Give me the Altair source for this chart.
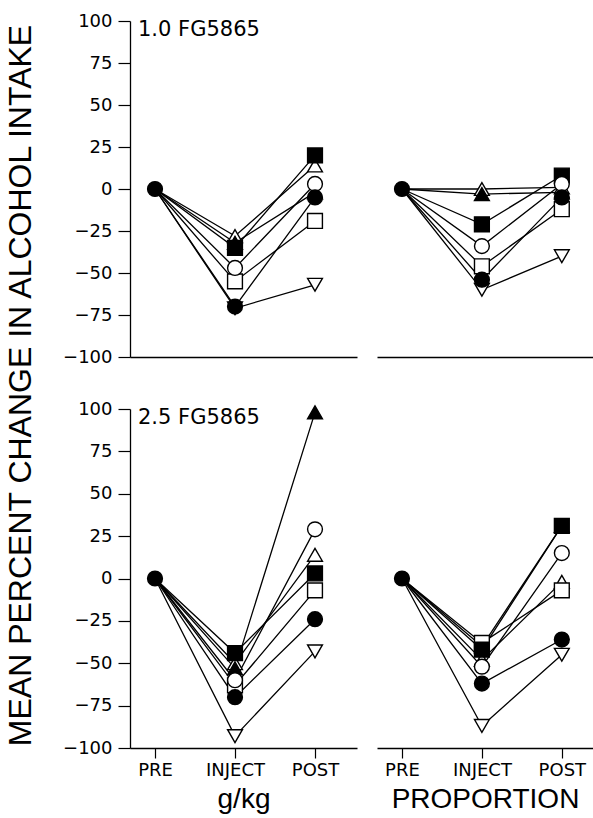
import altair as alt
import pandas as pd

FONT = "DejaVu Sans"
TFONT = "Liberation Sans"

phases = ["PRE", "INJECT", "POST"]
series = ["filled circle", "open circle", "filled square", "open square",
          "filled triangle", "open triangle", "open inverted triangle"]
shapes = ["circle", "circle", "square", "square", "triangle-up", "triangle-up", "triangle-down"]
fills = ["black", "white", "black", "white", "black", "white", "white"]
sizes = [220, 220, 150, 150, 200, 200, 200]

pre_all = [0, 0, 0, 0, 0, 0, 0]

# 1.0 FG5865, g/kg
inject_10_gkg = [-70, -47, -35, -55, -32, -28, -71]
post_10_gkg = [-5, 3, 20, -19, -2, 14, -57]
# 1.0 FG5865, proportion
inject_10_prop = [-54, -34, -21, -46, -3, 0, -60]
post_10_prop = [-5, 3, 8, -12, -2, 1, -40]
# 2.5 FG5865, g/kg
inject_25_gkg = [-70, -60, -44, -63, -53, -50, -93]
post_25_gkg = [-24, 29, 3, -7, 98, 14, -43]
# 2.5 FG5865, proportion
inject_25_prop = [-62, -52, -42, -38, -40, -48, -87]
post_25_prop = [-36, 15, 31, -7, 31, -2, -45]

panel_labels = ["1.0 FG5865", "2.5 FG5865"]
x_titles = ["g/kg", "PROPORTION"]
y_title = "MEAN PERCENT CHANGE IN ALCOHOL INTAKE"


def make_df(inject, post):
    rows = []
    # draw open markers first so the filled circle ends up on top
    for i in reversed(range(len(series))):
        for p, vals in enumerate([pre_all, inject, post]):
            rows.append({"series": series[i], "phase": p, "value": vals[i], "ord": len(rows)})
    return pd.DataFrame(rows)


def panel(df, label, left, bottom, width, height, xmax, xtitle=None):
    xaxis = alt.Axis(
        values=[0, 1, 2],
        labelExpr="datum.value == 0 ? 'PRE' : (datum.value == 1 ? 'INJECT' : 'POST')",
        labels=bottom, ticks=bottom, tickSize=10, tickColor="black", tickWidth=1.2,
        domainColor="black", domainWidth=1.3, grid=False,
        labelFont=FONT, labelFontSize=18, labelColor="black", labelPadding=3,
        title=xtitle if bottom else None,
        titleFont=TFONT, titleFontSize=28, titleFontWeight="normal", titleColor="black",
        titlePadding=6,
    )
    if left:
        yaxis = alt.Axis(
            values=[-100, -75, -50, -25, 0, 25, 50, 75, 100],
            labelExpr="datum.value < 0 ? '\u2212' + abs(datum.value) : datum.label",
            tickSize=12, tickColor="black", tickWidth=1.2, domainColor="black", domainWidth=1.3,
            grid=False, labelFont=FONT, labelFontSize=18, labelColor="black",
            labelPadding=6, title=None,
        )
    else:
        yaxis = None
    x = alt.X("phase:Q", scale=alt.Scale(domain=[-0.3125, xmax], nice=False, zero=False), axis=xaxis)
    y = alt.Y("value:Q", scale=alt.Scale(domain=[-100, 100], nice=False), axis=yaxis)
    base = alt.Chart(df)
    lines = base.mark_line(color="black", strokeWidth=1.3).encode(x=x, y=y, detail="series:N")
    pts = base.mark_point(filled=True, stroke="black", strokeWidth=1.4, opacity=1).encode(
        x=x, y=y,
        shape=alt.Shape("series:N", scale=alt.Scale(domain=series, range=shapes), legend=None),
        fill=alt.Fill("series:N", scale=alt.Scale(domain=series, range=fills), legend=None),
        size=alt.Size("series:N", scale=alt.Scale(domain=series, range=sizes), legend=None),
        order="ord:Q",
    ).transform_filter("datum.phase > 0 || datum.series == 'filled circle'")
    layers = [lines, pts]
    if label is not None:
        txt = alt.Chart(pd.DataFrame({"t": [label]})).mark_text(
            align="left", baseline="middle", font=FONT, fontSize=21, color="black"
        ).encode(text="t:N", x=alt.value(8), y=alt.value(9))
        layers.append(txt)
    return alt.layer(*layers).properties(width=width, height=height)


W_LEFT = 227
W_RIGHT = 216
XMAX_LEFT = 2.525
XMAX_RIGHT = 2.39

tl = panel(make_df(inject_10_gkg, post_10_gkg), panel_labels[0], True, False, W_LEFT, 336, XMAX_LEFT)
tr = panel(make_df(inject_10_prop, post_10_prop), None, False, False, W_RIGHT, 336, XMAX_RIGHT)
bl = panel(make_df(inject_25_gkg, post_25_gkg), panel_labels[1], True, True, W_LEFT, 339, XMAX_LEFT, x_titles[0])
br = panel(make_df(inject_25_prop, post_25_prop), None, False, True, W_RIGHT, 339, XMAX_RIGHT, x_titles[1])

top = alt.hconcat(tl, tr, spacing=20)
bottom = alt.hconcat(bl, br, spacing=20)

chart = alt.vconcat(top, bottom, spacing=34).properties(
    title=alt.TitleParams(y_title, orient="left", anchor="middle", font=TFONT, fontSize=32,
                          fontWeight="normal", color="black", offset=25, dx=27),
    padding={"top": 12, "left": 4, "right": 0, "bottom": 5},
).configure_view(stroke=None).configure_scale(zero=False)

chart.save("out.html", embed_options={"renderer": "svg", "actions": False})
